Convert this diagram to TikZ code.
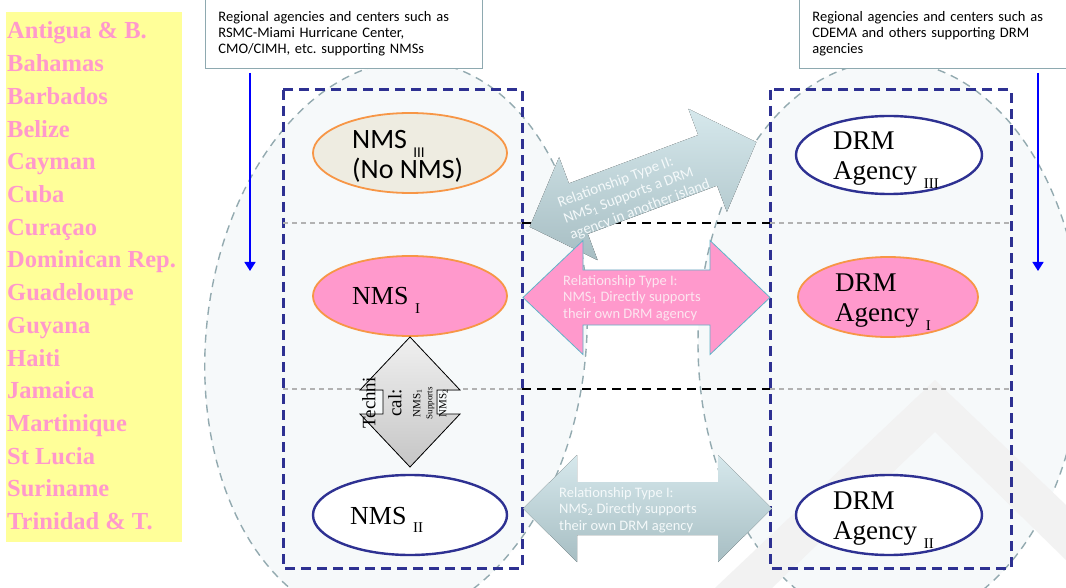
\documentclass[tikz,border=0pt]{standalone}
\usepackage{fontspec}
\setmainfont{Liberation Serif}
\newfontfamily\calib{Carlito}
\usetikzlibrary{arrows.meta,shapes.geometric}
\definecolor{navy}{HTML}{2E3192}
\definecolor{ovalgray}{HTML}{93AAB0}
\definecolor{zonefill}{HTML}{F6F9FA}
\definecolor{pinkfill}{HTML}{FF99CC}
\definecolor{isletext}{HTML}{FF99CC}
\definecolor{listyellow}{HTML}{FFFF99}
\definecolor{orangeline}{HTML}{F79646}
\definecolor{beige}{HTML}{EEECE1}
\definecolor{boxline}{HTML}{8EA9B0}
\definecolor{arrowedge}{HTML}{5FB4C9}
\definecolor{linktop}{HTML}{D6E8EC}
\definecolor{linkbottom}{HTML}{A7BEC3}
\definecolor{linkink}{HTML}{F4F9FA}
\definecolor{pinkink}{HTML}{FCE6F0}
\newcommand\lowidx[1]{\raisebox{-.32em}{\fontsize{15}{15}\selectfont #1}}
\newcommand\twinarrow[4]{(-#1,0) -- (-#1+#2,-#3) -- (-#1+#2,-#4) -- (#1-#2,-#4) -- (#1-#2,-#3) -- (#1,0) -- (#1-#2,#3) -- (#1-#2,#4) -- (-#1+#2,#4) -- (-#1+#2,#3) -- cycle}
\begin{document}
\begin{tikzpicture}[x=1pt, y=-1pt,
  isle/.style={anchor=base west, inner sep=0, text=isletext, font=\fontsize{24.5}{26}\selectfont\bfseries},
  infobox/.style={draw=boxline, line width=0.8pt, fill=white, anchor=north west, align=left, inner xsep=13pt, minimum height=70pt, font=\calib\fontsize{14.5}{16}\selectfont},
  downarrow/.style={draw=blue, line width=1.6pt, shorten <=4pt, -{Triangle[width=11pt,length=9pt]}},
  region/.style={draw=ovalgray, dash pattern=on 8pt off 6pt, line width=1.4pt, fill=zonefill},
  zonebox/.style={draw=navy, line width=3pt, dash pattern=on 10pt off 6pt},
  rowline/.style={draw=gray!60, line width=2pt, dash pattern=on 5pt off 4pt},
  gapline/.style={draw=black, line width=2.4pt, dash pattern=on 9pt off 6pt},
  oval/.style={ellipse, inner sep=0, minimum width=194pt, minimum height=80pt},
  hazard/.style={oval, draw=orangeline, line width=1.8pt},
  agency/.style={oval, draw=navy, line width=2.4pt, fill=white},
  ovaltext/.style={inner sep=0, align=left, font=\fontsize{27}{30}\selectfont},
  linkpink/.style={fill=pinkfill, draw=arrowedge, line width=0.8pt},
  linkgray/.style={top color=linktop, bottom color=linkbottom, draw=none},
  linktext/.style={inner sep=0, align=left, font=\calib\fontsize{14.5}{16.5}\selectfont}]
\useasboundingbox (0,0) rectangle (1066,588);
\fill[white] (0,0) rectangle (1066,588);

\draw[region, rotate around={-6:(396,342)}] (396,342) ellipse [x radius=190, y radius=282];
\draw[region] (890,343) ellipse [x radius=192, y radius=282];
\fill[gray!10] (715,588) -- (935,380) -- (1066,505) -- (1066,560) -- (935,432) -- (772,588) -- cycle;

\draw[zonebox] (283,90) rectangle (522,568);
\draw[zonebox] (770,90) rectangle (1011,568);
\draw[rowline] (283,223) -- (522,223);
\draw[rowline] (770,223) -- (1011,223);
\draw[rowline] (283,389) -- (522,389);
\draw[rowline] (770,389) -- (1011,389);
\draw[gapline] (522,223) -- (770,223);
\draw[gapline] (522,389) -- (770,389);

\node[hazard, fill=beige] (nmsIII) at (410,153) {};
\node[ovaltext, anchor=north west, font=\calib\fontsize{28}{27}\selectfont] (nmsIIIname) at (352,130) {NMS \lowidx{III}\\(No NMS)};
\node[hazard, fill=pinkfill] (nmsI) at (410,296) {};
\node[ovaltext, anchor=base west, font=\fontsize{26}{30}\selectfont] (nmsIname) at (352,305) {NMS \lowidx{I}};
\node[agency] (nmsII) at (410,515) {};
\node[ovaltext, anchor=base west, font=\fontsize{26}{30}\selectfont] (nmsIIname) at (350,524) {NMS \lowidx{II}};

\node[agency, minimum width=186pt, minimum height=78pt] (drmIII) at (889,155) {};
\node[ovaltext, anchor=north west] (drmIIIname) at (833,132) {DRM\\Agency \lowidx{III}};
\node[hazard, fill=pinkfill, minimum width=180pt] (drmI) at (888,297) {};
\node[ovaltext, anchor=north west] (drmIname) at (835,274) {DRM\\Agency \lowidx{I}};
\node[agency, minimum width=186pt] (drmII) at (889,515) {};
\node[ovaltext, anchor=north west] (drmIIname) at (833,492) {DRM\\Agency \lowidx{II}};

\fill[linkgray, shift={(643,184.5)}, rotate=20.5] \twinarrow{121}{52}{55}{27};
\node[linktext, text=linkink, rotate=20.5, font=\calib\fontsize{15}{17}\selectfont] (typeII) at (634,194) {Relationship Type II:\\NMS\textsubscript{1} Supports a DRM\\agency in another island};

\filldraw[linkpink, shift={(646.5,297.5)}] \twinarrow{123.5}{60}{57}{27.5};
\node[linktext, text=pinkink, anchor=north west] (typeIa) at (563,275) {Relationship Type I:\\NMS\textsubscript{1} Directly supports\\their own DRM agency};

\fill[linkgray, shift={(647.5,508.5)}] \twinarrow{124.5}{54}{53.5}{26.5};
\node[linktext, text=linkink, anchor=north west] (typeIb) at (559,487) {Relationship Type I:\\NMS\textsubscript{2} Directly supports\\their own DRM agency};

\filldraw[top color=gray!12, bottom color=gray!45, draw=black, line width=0.8pt, shift={(410,402)}, rotate=90] \twinarrow{65}{53}{50}{27};
\node[rotate=90, align=center, inner sep=0, font=\fontsize{19}{17}\selectfont] (techtxt) at (405,403) {Techni\\[9pt]cal:\\[2pt]\fontsize{11}{11}\selectfont NMS\textsubscript{1}\\[-5pt]\fontsize{9}{9}\selectfont Supports\\[-3pt]\fontsize{11}{11}\selectfont NMS\textsubscript{2}};

\node[infobox, text width=251pt] (nmsbox) at (205,-2) {Regional agencies and centers such as\\RSMC-Miami Hurricane Center,\\CMO/CIMH, etc.\ supporting NMSs};
\node[infobox, text width=255pt] (drmbox) at (799,-2) {Regional agencies and centers such as\\CDEMA and others supporting DRM\\agencies};
\coordinate (nmsdrop) at (250,271);
\coordinate (drmdrop) at (1038,271);
\draw[downarrow] (nmsbox.south -| nmsdrop) -- (nmsdrop);
\draw[downarrow] (drmbox.south -| drmdrop) -- (drmdrop);

\fill[listyellow] (6,12) rectangle (182,542);
\foreach \c [count=\k from 0] in {Antigua \& B., Bahamas, Barbados, Belize, Cayman, Cuba, Curaçao, Dominican Rep., Guadeloupe, Guyana, Haiti, Jamaica, Martinique, St Lucia, Suriname, Trinidad \& T.}
  \node[isle] (isle\k) at (7,39+32.7*\k) {\c};
\end{tikzpicture}
\end{document}
